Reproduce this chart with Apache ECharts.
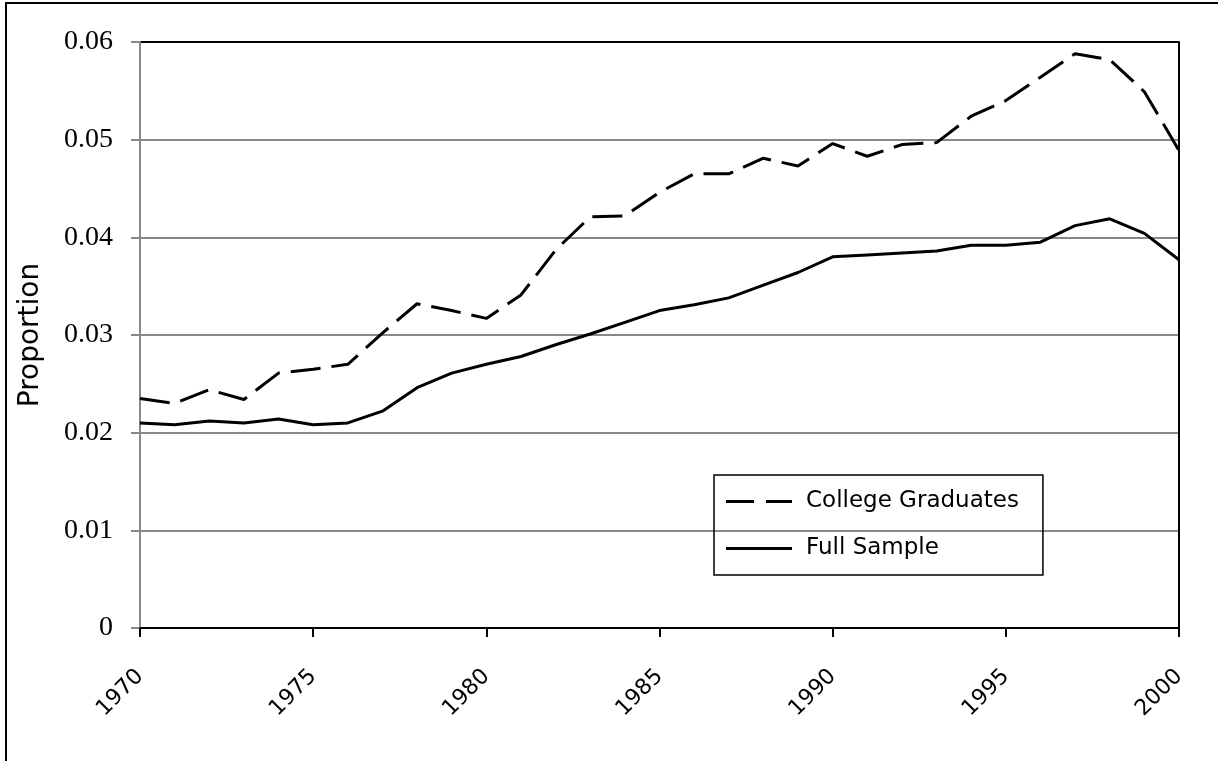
<!DOCTYPE html>
<html>
<head>
<meta charset="utf-8">
<script src="https://cdn.jsdelivr.net/npm/echarts@6/dist/echarts.min.js"></script>
<style>html,body{margin:0;padding:0;background:#fff;}#c{width:1218px;height:761px;}</style>
</head>
<body>
<div id="c"></div>
<script>
const years = [1970,1971,1972,1973,1974,1975,1976,1977,1978,1979,1980,1981,1982,1983,1984,1985,1986,1987,1988,1989,1990,1991,1992,1993,1994,1995,1996,1997,1998,1999,2000];
const collegeGraduates = [0.0235,0.0230,0.0244,0.0234,0.0261,0.0265,0.0270,0.0302,0.0332,0.0325,0.0317,0.0341,0.0387,0.0421,0.0422,0.0446,0.0465,0.0465,0.0481,0.0473,0.0496,0.0483,0.0495,0.0497,0.0524,0.0540,0.0564,0.0588,0.0582,0.0549,0.0489];
const fullSample = [0.0210,0.0208,0.0212,0.0210,0.0214,0.0208,0.0210,0.0222,0.0246,0.0261,0.0270,0.0278,0.0290,0.0301,0.0313,0.0325,0.0331,0.0338,0.0351,0.0364,0.0380,0.0382,0.0384,0.0386,0.0392,0.0392,0.0395,0.0412,0.0419,0.0404,0.0377];
const seriesNames = ['College Graduates','Full Sample'];
const yAxisName = 'Proportion';

const chart = echarts.init(document.getElementById('c'));
const pairs = (vals) => years.map((y,i)=>[y, vals[i]]);
chart.setOption({
  animation: false,
  backgroundColor: '#fff',
  graphic: [{
    type: 'rect', z: 100, silent: true,
    shape: {x: 6, y: 3, width: 1400, height: 900},
    style: {fill: 'none', stroke: '#000', lineWidth: 2}
  }],
  grid: {left: 140, right: 39, top: 42, bottom: 133, containLabel: false},
  legend: {
    orient: 'vertical',
    left: 714, top: 475,
    data: [
      {name: seriesNames[0], icon: 'path://M0,0H28V3H0Z M40,0H66V3H40Z'},
      {name: seriesNames[1], icon: 'path://M0,0H66V3H0Z'}
    ],
    itemWidth: 66, itemHeight: 20, itemGap: 24,
    padding: [15, 24, 15, 12],
    borderColor: '#000', borderWidth: 1.5,
    itemStyle: {color: '#000', borderWidth: 0},
    textStyle: {fontFamily: 'DejaVu Sans', fontSize: 23, color: '#000', padding: [0,0,0,9]}
  },
  xAxis: {
    type: 'value', min: 1970, max: 2000, interval: 5,
    axisLine: {show: true, lineStyle: {color: '#000', width: 2}},
    axisTick: {show: true, inside: false, length: 9, lineStyle: {color: '#000', width: 2}},
    splitLine: {show: false},
    axisLabel: {rotate: 45, margin: 45, fontFamily: 'DejaVu Sans', fontSize: 22, color: '#000', formatter: v => String(v)}
  },
  yAxis: [{
    type: 'value', min: 0, max: 0.06, interval: 0.01,
    name: yAxisName, nameLocation: 'middle', nameRotate: 90, nameGap: 95,
    nameTextStyle: {fontFamily: 'DejaVu Sans', fontSize: 28, color: '#000'},
    axisLine: {show: true, lineStyle: {color: '#888', width: 2}},
    axisTick: {show: true, inside: false, length: 9, lineStyle: {color: '#888', width: 2}},
    splitLine: {show: true, lineStyle: {color: ['#888','#888','#888','#888','#888','#888','#000'], width: 2}},
    axisLabel: {margin: 27, fontFamily: 'Liberation Serif', fontSize: 28, color: '#000',
      formatter: v => v === 0 ? '0' : v.toFixed(2)}
  }, {
    type: 'value', min: 0, max: 0.06, interval: 0.01, position: 'right',
    axisLine: {show: true, lineStyle: {color: '#000', width: 2}},
    axisTick: {show: false}, axisLabel: {show: false}, splitLine: {show: false}
  }],
  series: [{
    name: seriesNames[0], type: 'line', data: pairs(collegeGraduates),
    symbol: 'none', lineStyle: {color: '#000', width: 3, type: [30, 11]}, itemStyle: {color: '#000'}
  }, {
    name: seriesNames[1], type: 'line', data: pairs(fullSample),
    symbol: 'none', lineStyle: {color: '#000', width: 3, type: 'solid'}, itemStyle: {color: '#000'}
  }]
});
</script>
</body>
</html>
